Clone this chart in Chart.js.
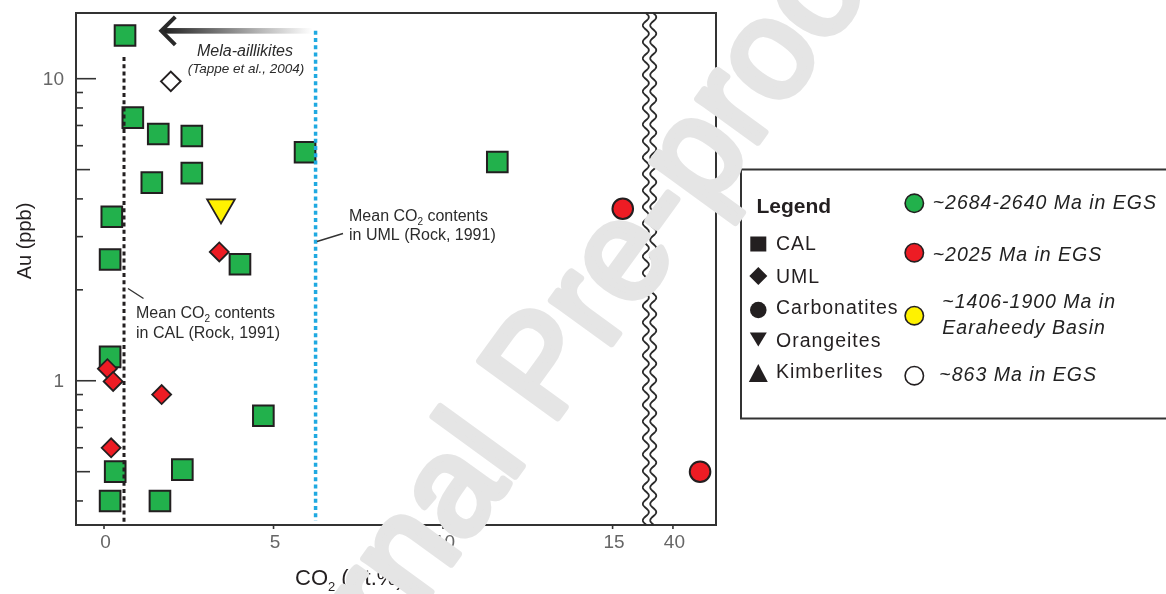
<!DOCTYPE html>
<html>
<head>
<meta charset="utf-8">
<script src="https://cdn.jsdelivr.net/npm/chart.js@4.4.1/dist/chart.umd.min.js"></script>
<style>
  html, body { margin: 0; padding: 0; background: #fff; }
  #wrap { width: 1166px; height: 594px; position: relative; }
  canvas { display: block; }
</style>
</head>
<body>
<div id="wrap"><canvas id="chart" width="1166" height="594"></canvas></div>
<script>
// CAL, ~2684-2640 Ma in EGS (green squares)
const calCO2 = [0.62, 0.85, 1.60, 2.59, 5.93, 2.59, 1.41, 0.23, 4.01, 0.18, 0.18, 4.70, 0.33, 2.31, 0.18, 1.65, 11.6];
const calAu  = [13.9, 7.43, 6.56, 6.46, 5.71, 4.87, 4.53, 3.49, 2.43, 2.52, 1.20, 0.766, 0.50, 0.508, 0.40, 0.40, 5.30];

// UML, ~2025 Ma in EGS (red diamonds)
const umlRedCO2 = [3.40, 0.10, 0.27, 1.70, 0.21];
const umlRedAu  = [2.67, 1.096, 0.995, 0.90, 0.60];

// UML, ~863 Ma in EGS (open diamond)
const umlOpenCO2 = [1.97];
const umlOpenAu  = [9.8];

// Carbonatites, ~2025 Ma in EGS (red circles)
const carbCO2 = [15.3, 40.8];
const carbAu  = [3.71, 0.50];

// Orangeites, ~1406-1900 Ma in Earaheedy Basin (yellow triangle)
const orangCO2 = [3.45];
const orangAu  = [3.75];

// Mean CO2 reference lines (Rock, 1991) and the mela-aillikite arrow
const meanCO2_CAL = 0.59;
const meanCO2_UML = 6.24;
const melaArrowFrom = 6.24, melaArrowTo = 1.66, melaArrowAu = 14.4;

// Axis ticks
const xTickValues = [0, 5, 10, 15, 40];
const xTickLabels = ['0', '5', '10', '15', '40'];
const yMajorTicks = [1, 10];
const yMajorLabels = ['1', '10'];
const yMinorTicks = [0.4, 0.5, 0.6, 0.7, 0.8, 0.9, 2, 3, 4, 5, 6, 7, 8, 9];

// Broken x axis: values above the break are shifted next to 15
const LOWER_MAX = 20;
const UPPER_START = 40;
const UPPER_AT = 16.78;
const BREAK_AT = 16.09;
function axisPos(v) { return v < LOWER_MAX ? v : UPPER_AT + (v - UPPER_START); }

const X_MIN = -0.826, X_MAX = 18.05;
const Y_MIN = 0.333, Y_MAX = 16.5;

const FONT = '"Liberation Sans", Arial, Helvetica, sans-serif';
const INK = '#231f20';
const GREEN = '#22b14c';
const RED = '#ed1c24';
const YELLOW = '#fff200';
const BLUE = '#1fa9e1';
const TICK_GREY = '#666';

function pts(xs, ys) { return xs.map((v, i) => ({ x: axisPos(v), y: ys[i] })); }

// draws "head" + subscript + "tail" starting at x (left aligned)
function subText(ctx, x, y, head, sub, tail, size, subSize, drop) {
  ctx.font = size + 'px ' + FONT;
  ctx.fillText(head, x, y);
  let cx = x + ctx.measureText(head).width;
  ctx.font = subSize + 'px ' + FONT;
  ctx.fillText(sub, cx, y + drop);
  cx += ctx.measureText(sub).width;
  ctx.font = size + 'px ' + FONT;
  ctx.fillText(tail, cx, y);
}

const decor = {
  id: 'decor',
  afterDatasetsDraw(chart) {
    const ctx = chart.ctx;
    const xs = chart.scales.x, ys = chart.scales.y;
    ctx.save();
    // mean CO2 in CAL
    ctx.setLineDash([4, 3.2]);
    ctx.lineWidth = 3;
    ctx.strokeStyle = INK;
    let x = xs.getPixelForValue(axisPos(meanCO2_CAL));
    ctx.beginPath();
    ctx.moveTo(x, ys.getPixelForValue(11.8));
    ctx.lineTo(x, chart.chartArea.bottom);
    ctx.stroke();
    // mean CO2 in UML
    ctx.lineWidth = 3.5;
    ctx.strokeStyle = BLUE;
    x = xs.getPixelForValue(axisPos(meanCO2_UML));
    ctx.beginPath();
    ctx.moveTo(x, ys.getPixelForValue(14.4));
    ctx.lineTo(x, ys.getPixelForValue(0.344));
    ctx.stroke();
    ctx.restore();
  },
  afterDraw(chart) {
    const ctx = chart.ctx;
    const a = chart.chartArea;
    const xs = chart.scales.x, ys = chart.scales.y;
    ctx.save();

    // frame
    ctx.strokeStyle = '#333';
    ctx.lineWidth = 2;
    ctx.strokeRect(a.left, a.top, a.right - a.left, a.bottom - a.top);

    // axis break (two wavy lines)
    const bx = xs.getPixelForValue(BREAK_AT);
    ctx.fillStyle = '#fff';
    ctx.fillRect(bx - 3, a.top + 1, 6, a.bottom - a.top - 2);
    ctx.lineWidth = 1.8;
    ctx.strokeStyle = '#2a2a2a';
    [-3.7, 3.7].forEach(off => {
      ctx.beginPath();
      for (let y = a.top; y <= a.bottom; y += 0.5) {
        const wx = bx + off + 3 * Math.sin((y - a.top) / 16.5 * 2 * Math.PI);
        if (y === a.top) ctx.moveTo(wx, y); else ctx.lineTo(wx, y);
      }
      ctx.stroke();
    });

    // y tick marks (inside) and labels
    ctx.strokeStyle = '#333';
    ctx.lineWidth = 1.6;
    yMajorTicks.concat(yMinorTicks).forEach(v => {
      const y = ys.getPixelForValue(v);
      let len = 7;
      if (yMajorTicks.includes(v)) len = 20;
      else if (v === 5 || v === 0.5) len = 14;
      ctx.beginPath();
      ctx.moveTo(a.left, y);
      ctx.lineTo(a.left + len, y);
      ctx.stroke();
    });
    ctx.fillStyle = TICK_GREY;
    ctx.font = '19px ' + FONT;
    ctx.textAlign = 'right';
    ctx.textBaseline = 'middle';
    yMajorTicks.forEach((v, i) => {
      ctx.fillText(yMajorLabels[i], a.left - 12, ys.getPixelForValue(v) + 1);
    });

    // x tick marks (outside) and labels
    ctx.textAlign = 'center';
    ctx.textBaseline = 'alphabetic';
    xTickValues.forEach((v, i) => {
      const x = xs.getPixelForValue(axisPos(v));
      ctx.beginPath();
      ctx.moveTo(x, a.bottom);
      ctx.lineTo(x, a.bottom + 4);
      ctx.stroke();
      ctx.fillText(xTickLabels[i], x + 1.5, a.bottom + 23);
    });

    // axis titles
    ctx.fillStyle = INK;
    ctx.textBaseline = 'alphabetic';
    ctx.textAlign = 'left';
    subText(ctx, 295, 585, 'CO', '2', ' (wt.%)', 22, 13, 6);
    ctx.save();
    ctx.translate(31, 241);
    ctx.rotate(-Math.PI / 2);
    ctx.textAlign = 'center';
    ctx.font = '20px ' + FONT;
    ctx.fillText('Au (ppb)', 0, 0);
    ctx.restore();

    // mela-aillikite arrow
    const ay = ys.getPixelForValue(melaArrowAu);
    const ax0 = xs.getPixelForValue(axisPos(melaArrowFrom)) - 3;
    const ax1 = xs.getPixelForValue(axisPos(melaArrowTo));
    const grad = ctx.createLinearGradient(ax0, 0, ax1, 0);
    grad.addColorStop(0, 'rgba(255,255,255,1)');
    grad.addColorStop(0.35, '#b5b5b5');
    grad.addColorStop(1, '#1c1c1c');
    ctx.fillStyle = grad;
    ctx.fillRect(ax1 + 3, ay - 2.8, ax0 - ax1 - 3, 5.6);
    ctx.strokeStyle = '#2a2a2a';
    ctx.lineWidth = 4;
    ctx.lineJoin = 'miter';
    ctx.beginPath();
    ctx.moveTo(ax1 + 15, ay - 14);
    ctx.lineTo(ax1 + 1, ay);
    ctx.lineTo(ax1 + 15, ay + 14);
    ctx.stroke();

    ctx.fillStyle = '#2b2b2b';
    ctx.textAlign = 'center';
    ctx.font = 'italic 16px ' + FONT;
    ctx.fillText('Mela-aillikites', 245, 56);
    ctx.font = 'italic 13.5px ' + FONT;
    ctx.fillText('(Tappe et al., 2004)', 246, 73);

    // reference line notes
    ctx.textAlign = 'left';
    ctx.fillStyle = '#2b2b2b';
    subText(ctx, 349, 221, 'Mean CO', '2', ' contents', 16, 10, 4);
    ctx.font = '16px ' + FONT;
    ctx.fillText('in UML (Rock, 1991)', 349, 239.5);
    subText(ctx, 136, 317.5, 'Mean CO', '2', ' contents', 16, 10, 4);
    ctx.font = '16px ' + FONT;
    ctx.fillText('in CAL (Rock, 1991)', 136, 338);
    ctx.strokeStyle = '#333';
    ctx.lineWidth = 1.4;
    ctx.beginPath();
    ctx.moveTo(317, 241.5); ctx.lineTo(343, 233.5);
    ctx.moveTo(128, 288.5); ctx.lineTo(143.5, 298.5);
    ctx.stroke();

    // legend box
    ctx.strokeStyle = '#333';
    ctx.lineWidth = 2;
    ctx.strokeRect(741, 169.5, 500, 249);
    ctx.fillStyle = INK;
    ctx.font = 'bold 21px ' + FONT;
    ctx.fillText('Legend', 756.5, 212.5);

    try { ctx.letterSpacing = '1px'; } catch (e) {}
    ctx.font = '19.5px ' + FONT;
    const lx = 758.3;
    // rock-type symbols
    ctx.fillStyle = INK;
    ctx.fillRect(lx - 8, 236.5, 16, 15);
    ctx.fillText('CAL', 776, 250);
    ctx.beginPath();
    ctx.moveTo(lx, 267); ctx.lineTo(lx + 9, 276); ctx.lineTo(lx, 285); ctx.lineTo(lx - 9, 276);
    ctx.closePath(); ctx.fill();
    ctx.fillText('UML', 776, 282.5);
    ctx.beginPath(); ctx.arc(lx, 310, 8.3, 0, Math.PI * 2); ctx.fill();
    ctx.fillText('Carbonatites', 776, 314);
    ctx.beginPath();
    ctx.moveTo(lx - 8.5, 332.5); ctx.lineTo(lx + 8.5, 332.5); ctx.lineTo(lx, 346.5);
    ctx.closePath(); ctx.fill();
    ctx.fillText('Orangeites', 776, 346.5);
    ctx.beginPath();
    ctx.moveTo(lx - 9.5, 382); ctx.lineTo(lx + 9.5, 382); ctx.lineTo(lx, 364);
    ctx.closePath(); ctx.fill();
    ctx.fillText('Kimberlites', 776, 378);

    // age colours
    const cx = 914.3;
    const ages = [
      { y: 203.3, fill: GREEN },
      { y: 252.7, fill: RED },
      { y: 315.7, fill: YELLOW },
      { y: 375.7, fill: '#fff' }
    ];
    ctx.lineWidth = 1.6;
    ctx.strokeStyle = INK;
    ages.forEach(s => {
      ctx.beginPath(); ctx.arc(cx, s.y, 9.2, 0, Math.PI * 2);
      ctx.fillStyle = s.fill; ctx.fill(); ctx.stroke();
    });
    ctx.fillStyle = '#222';
    ctx.font = 'italic 19.5px ' + FONT;
    ctx.fillText('~2684-2640 Ma in EGS', 932.7, 209.3);
    ctx.fillText('~2025 Ma in EGS', 932.7, 260.7);
    ctx.fillText('~1406-1900 Ma in', 942.3, 307.7);
    ctx.fillText('Earaheedy Basin', 942.3, 334);
    ctx.fillText('~863 Ma in EGS', 939.3, 380.7);
    try { ctx.letterSpacing = '0px'; } catch (e) {}

    // watermark
    ctx.save();
    ctx.translate(258, 830);
    ctx.rotate(-54 * Math.PI / 180);
    ctx.fillStyle = 'rgb(229,229,229)';
    ctx.strokeStyle = 'rgb(229,229,229)';
    ctx.lineWidth = 7;
    ctx.lineJoin = 'round';
    ctx.textAlign = 'left';
    ctx.textBaseline = 'alphabetic';
    ctx.font = '140px ' + FONT;
    ctx.fillText('Journal Pre-proof', 0, 0);
    ctx.strokeText('Journal Pre-proof', 0, 0);
    ctx.restore();

    ctx.restore();
  }
};

const ctx = document.getElementById('chart').getContext('2d');
new Chart(ctx, {
  type: 'scatter',
  data: {
    datasets: [
      { label: 'Carbonatites', data: pts(carbCO2, carbAu), pointStyle: 'circle', pointRadius: 10.3,
        backgroundColor: RED, borderColor: INK, borderWidth: 2, order: 1 },
      { label: 'Orangeites', data: pts(orangCO2, orangAu), pointStyle: 'triangle', pointRotation: 180, pointRadius: 16,
        backgroundColor: YELLOW, borderColor: INK, borderWidth: 1.8, order: 1 },
      { label: 'UML ~2025 Ma', data: pts(umlRedCO2, umlRedAu), pointStyle: 'rectRot', pointRadius: 9.5,
        backgroundColor: RED, borderColor: INK, borderWidth: 1.8, order: 2 },
      { label: 'UML ~863 Ma', data: pts(umlOpenCO2, umlOpenAu), pointStyle: 'rectRot', pointRadius: 9.8,
        backgroundColor: '#fff', borderColor: INK, borderWidth: 2, order: 2 },
      { label: 'CAL', data: pts(calCO2, calAu), pointStyle: 'rect', pointRadius: 14.6,
        backgroundColor: GREEN, borderColor: INK, borderWidth: 2, order: 3 }
    ]
  },
  options: {
    responsive: false,
    animation: false,
    devicePixelRatio: 1,
    events: [],
    layout: { autoPadding: false, padding: { top: 13, right: 450, left: 0, bottom: 0 } },
    plugins: { legend: { display: false }, tooltip: { enabled: false } },
    scales: {
      x: {
        type: 'linear', min: X_MIN, max: X_MAX, bounds: 'data',
        grid: { display: false, drawTicks: false, tickLength: 0 },
        border: { display: false },
        ticks: { display: false },
        afterBuildTicks: s => {
          s.ticks = xTickValues.map(v => ({ value: axisPos(v) }));
          s.min = X_MIN; s.max = X_MAX;
        },
        afterFit: s => { s.height = 69; s.paddingLeft = 0; s.paddingRight = 0; }
      },
      y: {
        type: 'logarithmic', min: Y_MIN, max: Y_MAX, bounds: 'data',
        grid: { display: false, drawTicks: false, tickLength: 0 },
        border: { display: false },
        ticks: { display: false },
        afterBuildTicks: s => {
          s.ticks = yMinorTicks.concat(yMajorTicks).sort((p, q) => p - q).map(v => ({ value: v }));
          s.min = Y_MIN; s.max = Y_MAX;
        },
        afterFit: s => { s.width = 76; s.paddingTop = 0; s.paddingBottom = 0; }
      }
    }
  },
  plugins: [decor]
});
</script>
</body>
</html>
